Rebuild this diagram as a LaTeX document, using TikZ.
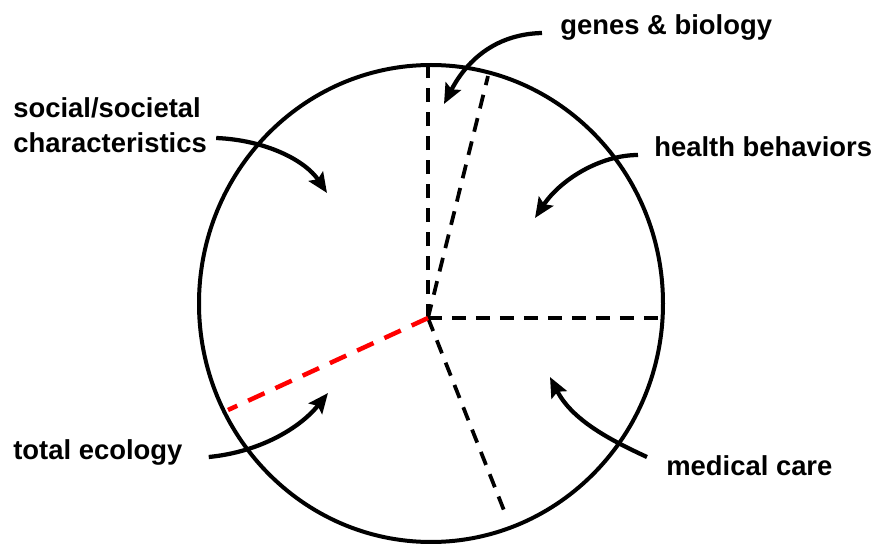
\documentclass[tikz,border=0pt]{standalone}
\usepackage{fontspec}
\setmainfont{Liberation Sans}
\usetikzlibrary{arrows.meta, calc}

\begin{document}
\begin{tikzpicture}[
    x=0.02cm, y=-0.02cm,
    lbl/.style={font=\fontsize{15.6}{19.9}\selectfont\bfseries, inner sep=0pt, align=left, anchor=west},
    pointer/.style={-{Stealth[length=0.4cm, width=0.34cm, inset=0.07cm]}, line width=0.085cm},
    spoke/.style={line width=0.075cm, dash pattern=on 0.28cm off 0.2cm},
    redspoke/.style={red, line width=0.09cm, dash pattern=on 0.36cm off 0.24cm}
]
    \useasboundingbox (0,0) rectangle (877,544);

    % 圆
    \draw[line width=0.08cm] (431,303.5) ellipse [x radius=232, y radius=238.5];

    % 分割线
    \coordinate (hub) at (428,318);
    \coordinate (topA) at (428,67);
    \coordinate (topB) at (488,76);
    \coordinate (rightEnd) at (663,318);
    \coordinate (bottomEnd) at (507,518);
    \coordinate (redEnd) at (228,410);
    \draw[spoke] (hub) -- (topA);
    \draw[spoke] (hub) -- (topB);
    \draw[spoke] (hub) -- (rightEnd);
    \draw[spoke] (hub) -- (bottomEnd);
    \draw[redspoke] (hub) -- (redEnd);

    % 标签
    \node[lbl] (genes) at (560,27) {genes \& biology};
    \node[lbl] (social) at (13,125) {social/societal\\characteristics};
    \node[lbl] (health) at (654,147) {health behaviors};
    \node[lbl] (total) at (13,452) {total ecology};
    \node[lbl] (medical) at (666,466) {medical care};

    % 箭头
    \coordinate (genesTip) at (444,104);
    \coordinate (socialTip) at (327,193);
    \coordinate (healthTip) at (535,218);
    \coordinate (medicalTip) at (550,377);
    \coordinate (totalTip) at (328,393);
    \draw[pointer] ($(genes.west)+(-18,6)$) .. controls (498,34) and (468,58) .. (genesTip);
    \draw[pointer] ($(social.east)+(9,13)$) .. controls (265,140) and (305,160) .. (socialTip);
    \draw[pointer] ($(health.west)+(-16,8)$) .. controls (600,155) and (560,180) .. (healthTip);
    \draw[pointer] ($(medical.west)+(-19,-9)$) .. controls (610,440) and (572,420) .. (medicalTip);
    \draw[pointer] ($(total.east)+(26,5)$) .. controls (260,452) and (300,428) .. (totalTip);
\end{tikzpicture}
\end{document}
